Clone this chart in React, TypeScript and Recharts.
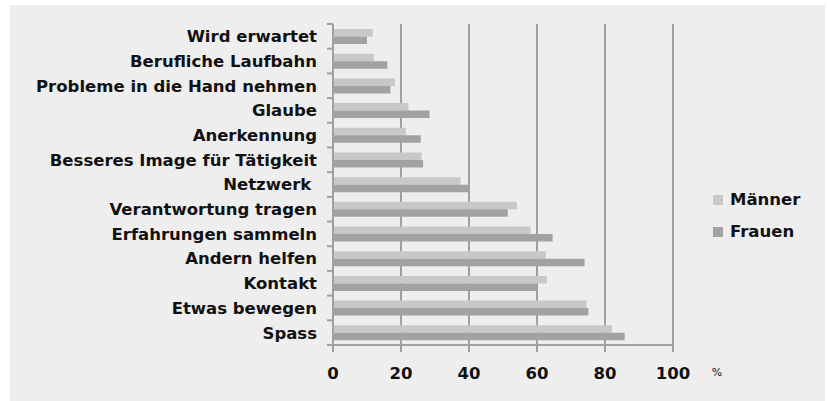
import React from 'react';
import { BarChart, Bar, XAxis, YAxis, CartesianGrid, Legend } from 'recharts';

const categories = [
  'Wird erwartet',
  'Berufliche Laufbahn',
  'Probleme in die Hand nehmen',
  'Glaube',
  'Anerkennung',
  'Besseres Image für Tätigkeit',
  'Netzwerk\u00a0',
  'Verantwortung tragen',
  'Erfahrungen sammeln',
  'Andern helfen',
  'Kontakt',
  'Etwas bewegen',
  'Spass',
];
const maenner = [11.7, 12, 18.2, 22.2, 21.4, 26.1, 37.5, 54.1, 58.1, 62.6, 62.9, 74.5, 82];
const frauen = [10, 16, 16.9, 28.4, 25.8, 26.5, 40.3, 51.4, 64.6, 74, 59.8, 75.1, 85.8];
const xTicks = [0, 20, 40, 60, 80, 100];
const seriesNames = ['Männer', 'Frauen'];

const data = categories.map((c, i) => ({ name: c, m: maenner[i], f: frauen[i] }));

const FONT = '"DejaVu Sans", sans-serif';
const GRID = '#a0a0a0';
const C_M = '#c8c8c8';
const C_F = '#a2a2a2';
const Y_TICK_SIZE = 6;
const Y_TICK_MARGIN = 10;

const LegendContent = () => (
  <div style={{ fontFamily: FONT, fontWeight: 'bold', fontSize: 16.5, color: '#111' }}>
    {seriesNames.map((n, i) => (
      <div key={n} style={{ display: 'flex', alignItems: 'center', height: 31.7 }}>
        <div style={{ width: 10, height: 10, background: i === 0 ? C_M : C_F, marginRight: 7 }} />
        <span>{n}</span>
      </div>
    ))}
  </div>
);

const PercentLabel = (props: any) => {
  const vb = props.viewBox || {};
  return (
    <text
      x={vb.x + vb.width + 44}
      y={372}
      textAnchor="middle"
      dominantBaseline="central"
      style={{ fontFamily: FONT, fontSize: 11, fill: '#111' }}
    >
      %
    </text>
  );
};

const CategoryTick = (props: any) => {
  const { x, y, payload, index } = props;
  const off = payload && typeof payload.offset === 'number' ? payload.offset : 12.35;
  const ax = x + Y_TICK_SIZE + Y_TICK_MARGIN;
  return (
    <g>
      <line x1={ax - 6} x2={ax} y1={y - off} y2={y - off} stroke={GRID} strokeWidth={2} />
      {index === categories.length - 1 ? (
        <line x1={ax - 6} x2={ax} y1={y + off} y2={y + off} stroke={GRID} strokeWidth={2} />
      ) : null}
      <text
        x={x}
        y={y}
        dy="0.355em"
        textAnchor="end"
        style={{ fontFamily: FONT, fontWeight: 'bold', fontSize: 16.5, fill: '#111', whiteSpace: 'pre' }}
      >
        {payload.value}
      </text>
    </g>
  );
};

export default function App() {
  return (
    <div style={{ position: 'absolute', left: 0, top: 0, width: 827, height: 401, background: '#ffffff' }}>
      <div style={{ position: 'absolute', left: 10, top: 5, width: 815, height: 396, background: '#eeeeee' }} />
      <div style={{ position: 'absolute', left: 0, top: 0 }}>
        <BarChart
          width={827}
          height={401}
          data={data}
          layout="vertical"
          margin={{ top: 24, right: 44, bottom: 0, left: 5 }}
          barGap={0}
        >
          <CartesianGrid horizontal={false} vertical={true} stroke={GRID} strokeWidth={2} verticalValues={[20, 40, 60, 80, 100]} />
          <XAxis
            type="number"
            domain={[0, 100]}
            ticks={xTicks}
            interval={0}
            height={56}
            tickSize={7}
            tickMargin={15}
            axisLine={{ stroke: GRID, strokeWidth: 2 }}
            tickLine={{ stroke: GRID, strokeWidth: 2 }}
            tick={{ fontFamily: FONT, fontWeight: 'bold', fontSize: 16.5, fill: '#111' }}
            label={<PercentLabel />}
          />
          <YAxis
            type="category"
            dataKey="name"
            width={328}
            interval={0}
            tickSize={Y_TICK_SIZE}
            tickMargin={Y_TICK_MARGIN}
            axisLine={{ stroke: GRID, strokeWidth: 2 }}
            tickLine={false}
            tick={<CategoryTick />}
          />
          <Legend
            layout="vertical"
            align="right"
            verticalAlign="middle"
            content={<LegendContent />}
            wrapperStyle={{ position: 'absolute', left: 713, top: 184, width: 110 }}
          />
          <Bar dataKey="m" name="Männer" fill={C_M} barSize={7.5} isAnimationActive={false} />
          <Bar dataKey="f" name="Frauen" fill={C_F} barSize={7.5} isAnimationActive={false} />
        </BarChart>
      </div>
    </div>
  );
}
